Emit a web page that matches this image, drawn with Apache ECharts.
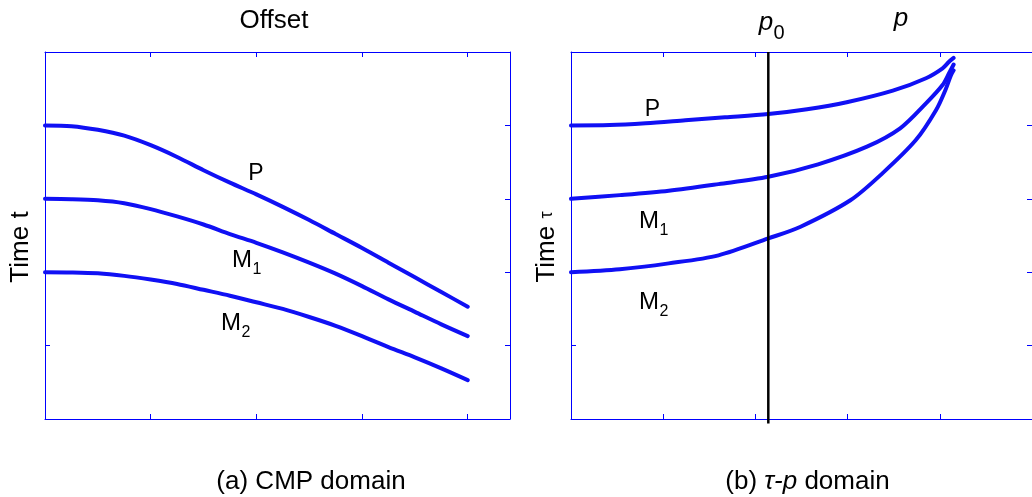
<!DOCTYPE html>
<html>
<head>
<meta charset="utf-8">
<script src="https://cdn.jsdelivr.net/npm/echarts@6/dist/echarts.min.js"></script>
<style>html,body{margin:0;padding:0;background:#fff;}#c{width:1032px;height:497px;}</style>
</head>
<body>
<div id="c"></div>
<script>
// ---- data ----
const cmpOffset = [0, 0.25, 0.5, 0.75, 1, 1.25, 1.5, 1.75, 2, 2.25, 2.5, 2.75, 3, 3.25, 3.5, 3.75, 4];
const cmpP  = [1.00, 1.01, 1.06, 1.14, 1.27, 1.43, 1.61, 1.78, 1.94, 2.11, 2.29, 2.48, 2.67, 2.87, 3.07, 3.27, 3.47];
const cmpM1 = [2.00, 2.005, 2.02, 2.06, 2.14, 2.24, 2.35, 2.48, 2.60, 2.73, 2.87, 3.02, 3.19, 3.37, 3.54, 3.71, 3.87];
const cmpM2 = [3.00, 3.003, 3.015, 3.05, 3.10, 3.16, 3.24, 3.32, 3.41, 3.50, 3.61, 3.73, 3.87, 4.02, 4.16, 4.31, 4.47];

const tpP_p    = [0, 0.42, 0.81, 1.24, 1.67, 2.14, 2.56, 2.99, 3.49, 3.85, 4.03, 4.10, 4.15];
const tpP_tau  = [1.00, 0.995, 0.97, 0.93, 0.89, 0.845, 0.78, 0.685, 0.527, 0.357, 0.222, 0.132, 0.08];
const tpM1_p   = [0, 0.53, 1.06, 1.60, 2.14, 2.68, 3.21, 3.57, 3.85, 4.03, 4.10, 4.15];
const tpM1_tau = [2.00, 1.95, 1.89, 1.80, 1.70, 1.53, 1.29, 1.04, 0.70, 0.45, 0.29, 0.17];
const tpM2_p   = [0, 0.53, 1.06, 1.60, 2.14, 2.49, 3.03, 3.38, 3.74, 3.96, 4.06, 4.12, 4.15];
const tpM2_tau = [3.00, 2.96, 2.88, 2.77, 2.54, 2.38, 2.02, 1.65, 1.20, 0.79, 0.52, 0.32, 0.25];

const p0 = 2.14;
const p0Line_tau = [0, 5.06];

// ---- helpers ----
const BLUE = '#0000ff';
const CURVE = '#1010f4';
const FF = '"Liberation Sans", Arial, sans-serif';

function zip(a, b) { return a.map((v, i) => [v, b[i]]); }

function axis(gridIndex, position, min, max, inverse) {
  return {
    type: 'value', gridIndex, position, min, max, interval: 1, inverse: !!inverse,
    axisLine: { show: true, onZero: false, lineStyle: { color: BLUE, width: 1 } },
    axisTick: { show: true, inside: true, length: 5, lineStyle: { color: BLUE, width: 1 } },
    axisLabel: { show: false },
    splitLine: { show: false }
  };
}

function curve(xi, yi, data) {
  return {
    type: 'line', xAxisIndex: xi, yAxisIndex: yi, data, smooth: 0.3,
    showSymbol: false, symbol: 'none', clip: false,
    lineStyle: { color: CURVE, width: 4, cap: 'round', join: 'round' }
  };
}

function txt(x, y, text, size, extra, rotation) {
  const g = {
    type: 'text', x, y, silent: true,
    style: Object.assign({ text, fontSize: size, fontFamily: FF, fill: '#000', align: 'center', verticalAlign: 'middle' }, extra || {})
  };
  if (rotation) g.rotation = rotation;
  return g;
}

const chart = echarts.init(document.getElementById('c'), null, { renderer: 'canvas' });

chart.setOption({
  animation: false,
  backgroundColor: '#fff',
  grid: [
    { left: 45, top: 52, width: 465, height: 367, containLabel: false },
    { left: 571, top: 52, width: 465, height: 367, containLabel: false }
  ],
  xAxis: [
    axis(0, 'bottom', 0, 4.4),
    axis(0, 'top', 0, 4.4),
    axis(1, 'bottom', 0, 5),
    axis(1, 'top', 0, 5)
  ],
  yAxis: [
    axis(0, 'left', 0, 5, true),
    axis(0, 'right', 0, 5, true),
    axis(1, 'left', 0, 5, true),
    axis(1, 'right', 0, 5, true)
  ],
  series: [
    curve(0, 0, zip(cmpOffset, cmpP)),
    curve(0, 0, zip(cmpOffset, cmpM1)),
    curve(0, 0, zip(cmpOffset, cmpM2)),
    curve(2, 2, zip(tpP_p, tpP_tau)),
    curve(2, 2, zip(tpM1_p, tpM1_tau)),
    curve(2, 2, zip(tpM2_p, tpM2_tau)),
    {
      type: 'line', xAxisIndex: 2, yAxisIndex: 2, clip: false, showSymbol: false, symbol: 'none',
      data: p0Line_tau.map(t => [p0, t]),
      lineStyle: { color: '#000', width: 2.5 }
    }
  ],
  graphic: [
    // left panel
    txt(274, 21, 'Offset', 26),
    txt(21, 247, 'Time t', 26, null, Math.PI / 2),
    txt(256, 174, 'P', 23),
    txt(242, 260, 'M', 24), txt(257, 269.5, '1', 16),
    txt(231, 323.5, 'M', 24), txt(246, 333, '2', 16),
    txt(311, 482, '(a) CMP domain', 26),
    // right panel
    txt(652.5, 109.5, 'P', 23),
    txt(649, 221, 'M', 24), txt(664, 230.5, '1', 16),
    txt(649, 302.5, 'M', 24), txt(664, 312, '2', 16),
    txt(766, 23, 'p', 26, { fontStyle: 'italic' }), txt(779, 33, '0', 20),
    txt(901, 19, 'p', 26, { fontStyle: 'italic' }),
    txt(807.5, 482, '(b) {i|τ-p} domain', 26, { rich: { i: { fontStyle: 'italic', fontSize: 26, fontFamily: FF, fill: '#000' } } }),
    txt(547, 247, 'Time {t|τ}', 26, { rich: { t: { fontSize: 18, fontFamily: FF, fill: '#000' } } }, Math.PI / 2)
  ]
});
</script>
</body>
</html>
